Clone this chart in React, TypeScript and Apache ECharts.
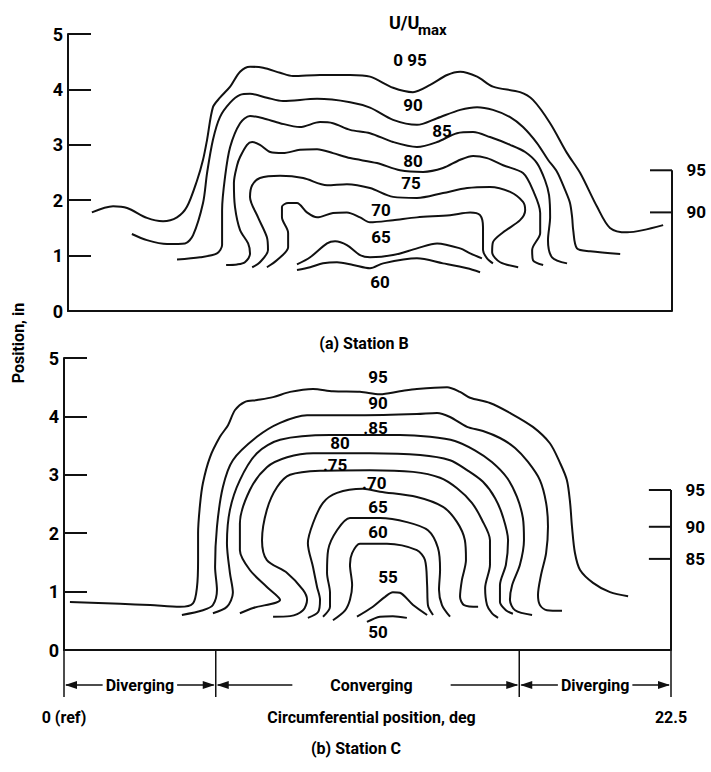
import React, { useEffect, useRef } from 'react';
import * as echarts from 'echarts';

type Pt = [number, number];

// ---------- Station B (top panel): contour lines [circumferential deg, position in] ----------
const stationB95: Pt[] = [[0.89,1.78],[1.68,1.89],[2.20,1.86],[2.94,1.68],[3.54,1.62],[4.06,1.69],[4.43,1.88],[4.81,2.36],[5.03,2.73],[5.18,3.09],[5.40,3.68],[5.66,3.85],[6.04,4.05],[6.41,4.32],[6.78,4.41],[7.27,4.39],[7.90,4.30],[8.38,4.24],[9.39,4.26],[10.51,4.26],[11.25,4.23],[12.11,4.03],[12.85,3.95],[13.49,4.08],[14.12,4.26],[14.61,4.32],[15.24,4.23],[15.83,4.05],[16.84,3.95],[17.32,3.81],[17.96,3.39],[18.59,2.85],[19.08,2.49],[19.71,1.88],[20.19,1.50],[20.83,1.42],[21.42,1.46],[22.17,1.55]];
const stationB90: Pt[] = [[2.38,1.39],[2.94,1.28],[3.69,1.21],[4.36,1.22],[4.66,1.37],[5.03,1.95],[5.18,2.49],[5.40,3.09],[5.66,3.50],[6.04,3.76],[6.41,3.90],[6.78,3.92],[7.41,3.85],[8.01,3.79],[9.28,3.83],[10.51,3.77],[11.25,3.67],[12.11,3.45],[13.00,3.36],[13.75,3.48],[14.61,3.63],[15.24,3.68],[15.83,3.63],[16.47,3.50],[16.95,3.32],[17.47,3.03],[17.88,2.73],[18.22,2.51],[18.52,2.18],[18.70,1.95],[18.78,1.69],[18.82,1.46],[18.96,1.13],[19.45,1.08],[20.57,1.03]];
const stationB85: Pt[] = [[4.06,0.93],[4.92,0.97],[5.55,1.04],[5.74,1.19],[5.74,1.82],[5.85,2.42],[6.04,2.96],[6.41,3.39],[6.78,3.52],[7.27,3.48],[7.90,3.39],[8.64,3.32],[9.39,3.41],[9.87,3.39],[10.51,3.27],[11.25,3.21],[12.11,3.05],[13.00,2.96],[13.75,3.05],[14.49,3.21],[15.09,3.23],[15.72,3.14],[16.47,3.00],[17.03,2.87],[17.47,2.67],[17.77,2.36],[17.92,2.09],[17.96,1.69],[17.88,1.28],[18.03,0.97],[18.59,0.86]];
const stationB80: Pt[] = [[5.89,0.83],[6.30,0.84],[6.59,0.88],[6.78,1.04],[6.71,1.22],[6.41,1.46],[6.22,1.88],[6.18,2.31],[6.30,2.63],[6.41,2.78],[6.67,3.00],[6.86,3.05],[7.15,3.00],[7.53,2.87],[8.01,2.85],[8.64,2.91],[9.28,2.92],[9.87,2.85],[10.51,2.76],[11.51,2.67],[12.37,2.54],[13.23,2.51],[13.97,2.58],[14.61,2.73],[15.09,2.80],[15.61,2.76],[16.21,2.63],[16.95,2.49],[17.32,2.18],[17.59,1.77],[17.59,1.41],[17.29,1.10],[17.32,0.92],[17.70,0.83]];
const stationB75: Pt[] = [[6.86,0.79],[7.15,0.88],[7.45,1.10],[7.41,1.33],[7.08,1.69],[6.78,2.06],[6.86,2.27],[7.15,2.40],[7.90,2.44],[8.76,2.40],[9.65,2.27],[10.39,2.29],[11.25,2.22],[12.11,2.06],[13.00,2.04],[13.97,2.13],[14.87,2.22],[15.72,2.24],[16.47,2.15],[16.95,1.97],[17.03,1.82],[16.84,1.64],[16.21,1.42],[15.83,1.24],[15.80,1.06],[16.10,0.88],[16.77,0.79]];
const stationB70: Pt[] = [[7.41,0.79],[7.79,0.92],[8.20,1.15],[8.20,1.41],[7.97,1.69],[7.97,1.88],[8.20,1.95],[8.53,1.95],[8.90,1.78],[9.28,1.69],[9.87,1.77],[10.39,1.78],[10.88,1.69],[11.25,1.60],[12.11,1.64],[13.00,1.69],[14.23,1.73],[14.98,1.78],[15.35,1.73],[15.46,1.51],[15.46,1.10],[15.61,0.95],[15.83,0.86]];
const stationB65: Pt[] = [[8.53,0.84],[9.02,0.97],[9.65,1.22],[9.95,1.26],[10.39,1.19],[10.88,1.01],[11.25,0.97],[12.11,1.01],[13.00,1.13],[13.75,1.22],[14.61,1.13],[14.98,1.04],[15.42,0.95]];
const stationB60: Pt[] = [[8.53,0.74],[9.02,0.79],[9.50,0.86],[10.02,0.88],[10.62,0.83],[11.25,0.77],[11.74,0.86],[13.00,0.95],[13.97,0.86],[14.87,0.77],[15.35,0.70]];

// ---------- Station C (bottom panel) ----------
const stationC95: Pt[] = [[0.22,0.82],[2.08,0.79],[3.19,0.77],[4.30,0.74],[4.78,0.80],[4.93,1.08],[4.97,1.54],[4.97,2.00],[5.04,2.48],[5.15,2.86],[5.41,3.30],[5.78,3.65],[6.08,3.85],[6.34,4.11],[6.71,4.25],[7.15,4.28],[7.75,4.33],[8.38,4.42],[9.23,4.47],[9.97,4.43],[10.97,4.42],[11.71,4.38],[12.45,4.43],[13.08,4.47],[14.20,4.50],[14.68,4.42],[15.05,4.32],[15.79,4.23],[16.53,4.06],[17.38,3.82],[18.01,3.54],[18.39,3.20],[18.64,2.91],[18.76,2.52],[18.83,2.11],[18.94,1.66],[19.13,1.37],[19.61,1.15],[20.24,0.99],[20.91,0.92]];
const stationC90: Pt[] = [[4.37,0.60],[5.15,0.68],[5.52,0.77],[5.67,1.03],[5.60,1.42],[5.67,2.11],[5.89,2.79],[6.26,3.25],[7.15,3.65],[8.01,3.89],[9.01,4.02],[10.97,4.02],[13.08,4.04],[13.83,4.06],[14.31,3.99],[14.94,3.82],[15.53,3.75],[16.16,3.63],[16.72,3.46],[17.20,3.22],[17.64,2.91],[17.87,2.52],[17.94,2.11],[17.87,1.66],[17.68,1.28],[17.57,0.94],[17.64,0.77],[17.90,0.68],[18.46,0.67]];
const stationC85: Pt[] = [[5.52,0.63],[6.04,0.74],[6.26,0.98],[6.15,1.32],[6.04,1.83],[6.15,2.40],[6.52,2.91],[7.15,3.37],[8.01,3.60],[9.86,3.68],[12.45,3.68],[13.57,3.65],[14.49,3.58],[15.23,3.42],[15.86,3.22],[16.42,2.95],[16.79,2.62],[17.01,2.26],[17.05,1.88],[16.90,1.46],[16.61,1.11],[16.53,0.86],[16.72,0.68],[17.35,0.60]];
const stationC80: Pt[] = [[6.52,0.63],[7.01,0.72],[8.01,0.86],[7.52,1.08],[6.89,1.37],[6.52,1.71],[6.52,2.17],[6.89,2.74],[7.52,3.13],[8.27,3.30],[9.23,3.37],[11.34,3.37],[13.20,3.34],[14.31,3.25],[14.94,3.08],[15.53,2.88],[15.98,2.60],[16.27,2.28],[16.46,1.88],[16.38,1.46],[16.16,1.11],[16.16,0.82],[16.38,0.68],[16.64,0.62]];
const stationC75: Pt[] = [[7.75,0.57],[8.38,0.58],[8.86,0.68],[9.01,0.86],[8.86,1.03],[8.27,1.32],[7.52,1.54],[7.34,1.88],[7.52,2.40],[7.90,2.79],[8.38,3.00],[9.49,3.07],[11.34,3.08],[12.94,3.05],[13.94,2.95],[14.57,2.77],[15.12,2.52],[15.49,2.23],[15.79,1.88],[15.79,1.46],[15.61,1.06],[15.68,0.77],[15.86,0.63],[16.09,0.55]];
const stationC70: Pt[] = [[9.04,0.55],[9.42,0.65],[9.49,0.86],[9.38,1.08],[9.23,1.42],[9.04,1.83],[9.23,2.17],[9.60,2.52],[10.12,2.69],[11.08,2.76],[11.71,2.71],[13.08,2.62],[14.05,2.45],[14.57,2.19],[14.86,1.88],[14.90,1.54],[14.75,1.20],[14.68,0.91],[14.83,0.77],[15.35,0.74]];
const stationC65: Pt[] = [[9.60,0.57],[9.86,0.74],[9.86,0.98],[9.75,1.32],[9.79,1.71],[10.12,2.05],[10.60,2.26],[11.71,2.26],[12.71,2.19],[13.49,2.05],[13.86,1.75],[13.94,1.37],[13.90,1.03],[14.01,0.77],[14.31,0.57]];
const stationC60: Pt[] = [[9.97,0.51],[10.42,0.68],[10.60,0.86],[10.68,1.11],[10.60,1.46],[10.68,1.66],[10.97,1.82],[11.97,1.82],[13.08,1.71],[13.38,1.54],[13.46,1.11],[13.49,0.77],[13.68,0.60]];
const stationC55: Pt[] = [[10.86,0.57],[11.45,0.74],[11.90,0.91],[12.19,0.99],[12.45,0.98],[12.94,0.77],[13.46,0.60]];
const stationC50: Pt[] = [[11.23,0.48],[11.71,0.57],[12.19,0.58],[12.71,0.55]];

// ---------- contour value labels ----------
const labelsB = [
  { text: '0 95', x: 12.74, y: 4.53 },
  { text: '90', x: 12.85, y: 3.72 },
  { text: '85', x: 13.93, y: 3.25 },
  { text: '80', x: 12.85, y: 2.71 },
  { text: '75', x: 12.78, y: 2.31 },
  { text: '70', x: 11.66, y: 1.82 },
  { text: '65', x: 11.66, y: 1.33 },
  { text: '60', x: 11.62, y: 0.52 },
];
const labelsC = [
  { text: '95', x: 11.64, y: 4.67 },
  { text: '90', x: 11.64, y: 4.23 },
  { text: '.85', x: 11.55, y: 3.80 },
  { text: '80', x: 10.23, y: 3.54 },
  { text: '.75', x: 10.05, y: 3.17 },
  { text: '.70', x: 11.50, y: 2.86 },
  { text: '65', x: 11.64, y: 2.45 },
  { text: '60', x: 11.64, y: 2.02 },
  { text: '55', x: 12.01, y: 1.25 },
  { text: '50', x: 11.64, y: 0.31 },
];

// right-hand U/Umax scale marks (value, position in)
const rightScaleB = [{ text: '95', y: 2.54 }, { text: '90', y: 1.78 }];
const rightScaleC = [{ text: '95', y: 2.74 }, { text: '90', y: 2.11 }, { text: '85', y: 1.56 }];

// flow regions along the circumference (deg)
const regionBounds = [0, 5.625, 16.875, 22.5];
const regionNames = ['Diverging', 'Converging', 'Diverging'];

const xMax = 22.5;
const xTitle = 'Circumferential position, deg';

const FONT = 'Roboto, "DejaVu Sans", sans-serif';
const INK = '#111';

const contoursB = [stationB95, stationB90, stationB85, stationB80, stationB75, stationB70, stationB65, stationB60];
const contoursC = [stationC95, stationC90, stationC85, stationC80, stationC75, stationC70, stationC65, stationC60, stationC55, stationC50];

export default function App() {
  const ref = useRef<HTMLDivElement>(null);
  useEffect(() => {
    if (!ref.current) return;
    const chart = echarts.init(ref.current, undefined, { renderer: 'svg' });
    const tickLen = 0.82;

    const lineSeries = (pts: Pt[], idx: number, name: string, smooth = 0.3) => ({
      type: 'line', name, xAxisIndex: idx, yAxisIndex: idx, data: pts,
      showSymbol: false, smooth, silent: true, animation: false,
      lineStyle: { color: INK, width: 2 }, z: 3,
    });
    const textStyle = { fontSize: 17, fontWeight: 'bold', color: '#000', fontFamily: FONT, textBorderWidth: 0, opacity: 1 };
    const labelSeries = (labels: { text: string; x: number; y: number }[], idx: number) => ({
      type: 'scatter', xAxisIndex: idx, yAxisIndex: idx, silent: true,
      symbolSize: 1, itemStyle: { color: 'rgba(255,255,255,0)' },
      data: labels.map((l) => ({ name: l.text, value: [l.x, l.y] })),
      label: { show: true, position: 'top', distance: -9, formatter: '{b}', ...textStyle },
      z: 6,
    });
    const bracket = (marks: { text: string; y: number }[], idx: number) => {
      const top = Math.max(...marks.map((m) => m.y));
      const s: any[] = [lineSeries([[xMax, 0], [xMax, top]], idx, 'scale', 0)];
      marks.forEach((m) => s.push(lineSeries([[xMax - tickLen, m.y], [xMax, m.y]], idx, 'tick', 0)));
      s.push({
        type: 'scatter', xAxisIndex: idx, yAxisIndex: idx, silent: true,
        symbolSize: 1, itemStyle: { color: 'rgba(255,255,255,0)' },
        data: marks.map((m) => ({ name: m.text, value: [xMax, m.y] })),
        label: { show: true, position: 'right', distance: 14, formatter: '{b}', ...textStyle },
      });
      return s;
    };

    const yAxisCommon = {
      type: 'value', min: 0, max: 5, interval: 1,
      axisLine: { show: true, onZero: false, lineStyle: { color: INK, width: 2 } },
      axisTick: { show: true, inside: true, length: 23, lineStyle: { color: INK, width: 2 } },
      axisLabel: { fontSize: 18, fontWeight: 'bold', color: '#000', fontFamily: FONT, margin: 5 },
      splitLine: { show: false },
    };

    chart.setOption({
      animation: false,
      backgroundColor: '#fff',
      textStyle: { fontFamily: FONT },
      grid: [
        { left: 68, top: 34, width: 604, height: 277 },
        { left: 64, top: 358, width: 607, height: 292 },
      ],
      xAxis: [
        {
          type: 'value', gridIndex: 0, min: 0, max: xMax,
          axisLine: { show: true, onZero: false, lineStyle: { color: INK, width: 2 } },
          axisTick: { show: false }, axisLabel: { show: false }, splitLine: { show: false },
        },
        {
          type: 'value', gridIndex: 1, min: 0, max: xMax, interval: xMax,
          axisLine: { show: true, onZero: false, lineStyle: { color: INK, width: 2 } },
          axisTick: { show: false }, splitLine: { show: false },
          axisLabel: {
            show: true, margin: 59, fontSize: 16, fontWeight: 'bold', color: '#000', fontFamily: FONT,
            formatter: (v: number) => (v === 0 ? '0 (ref)' : v === xMax ? '22.5' : ''),
          },
        },
      ],
      yAxis: [
        { ...yAxisCommon, gridIndex: 0 },
        { ...yAxisCommon, gridIndex: 1 },
      ],
      series: [
        ...contoursB.map((c, i) => lineSeries(c, 0, 'B' + i)),
        ...contoursC.map((c, i) => lineSeries(c, 1, 'C' + i)),
        labelSeries(labelsB, 0),
        labelSeries(labelsC, 1),
        ...bracket(rightScaleB, 0),
        ...bracket(rightScaleC, 1),
      ],
    });

    // annotations below the Station C axis: region dividers and arrows
    const ctx = document.createElement('canvas').getContext('2d')!;
    ctx.font = `bold 16px Roboto`;
    const graphics: any[] = [];
    const [, axisY] = chart.convertToPixel({ gridIndex: 1 }, [0, 0]) as number[];
    const arrowY = axisY + 35;
    const bx = regionBounds.map((b) => (chart.convertToPixel({ gridIndex: 1 }, [b, 0]) as number[])[0]);
    bx.forEach((x) => {
      graphics.push({ type: 'line', shape: { x1: x, y1: axisY, x2: x, y2: axisY + 47 }, style: { stroke: INK, lineWidth: 1.5 } });
    });
    regionNames.forEach((name, i) => {
      const x0 = bx[i];
      const x1 = bx[i + 1];
      const cx = name === 'Converging' ? (x0 + x1) / 2 + 4 : (x0 + x1) / 2;
      const w = ctx.measureText(name).width;
      const gap = name === 'Converging' ? 38 : 3;
      graphics.push({ type: 'text', x: cx, y: arrowY, style: { text: name, textAlign: 'center', textVerticalAlign: 'middle', fontSize: 16, fontWeight: 'bold', fontFamily: FONT, fill: '#000' } });
      graphics.push({ type: 'line', shape: { x1: x0 + 2, y1: arrowY, x2: cx - w / 2 - gap, y2: arrowY }, style: { stroke: INK, lineWidth: 1.5 } });
      graphics.push({ type: 'line', shape: { x1: cx + w / 2 + gap, y1: arrowY, x2: x1 - 2, y2: arrowY }, style: { stroke: INK, lineWidth: 1.5 } });
      graphics.push({ type: 'polygon', shape: { points: [[x0 + 1, arrowY], [x0 + 13, arrowY - 4], [x0 + 13, arrowY + 4]] }, style: { fill: INK } });
      graphics.push({ type: 'polygon', shape: { points: [[x1 - 1, arrowY], [x1 - 13, arrowY - 4], [x1 - 13, arrowY + 4]] }, style: { fill: INK } });
    });

    const txt = (text: string, x: number, y: number, size: number, align = 'center', rotation = 0) => ({
      type: 'text', x, y, rotation,
      style: { text, textAlign: align, textVerticalAlign: 'middle', fontSize: size, fontWeight: 'bold', fontFamily: FONT, fill: '#000' },
    });
    const midX = (bx[0] + bx[bx.length - 1]) / 2 + 4;
    graphics.push(txt(xTitle, midX, axisY + 67, 16));
    graphics.push(txt('U/U', 389, 22, 18, 'left'));
    graphics.push(txt('max', 418, 30, 15, 'left'));
    graphics.push(txt('(a) Station B', 364, 343, 16));
    graphics.push(txt('(b) Station C', 356, 748, 16));
    graphics.push(txt('Position, in', 18, 343, 16, 'center', Math.PI / 2));

    chart.setOption({ graphic: graphics });

    return () => chart.dispose();
  }, []);

  return <div ref={ref} style={{ position: 'fixed', left: 0, top: 0, width: 711, height: 772, background: '#fff' }} />;
}
